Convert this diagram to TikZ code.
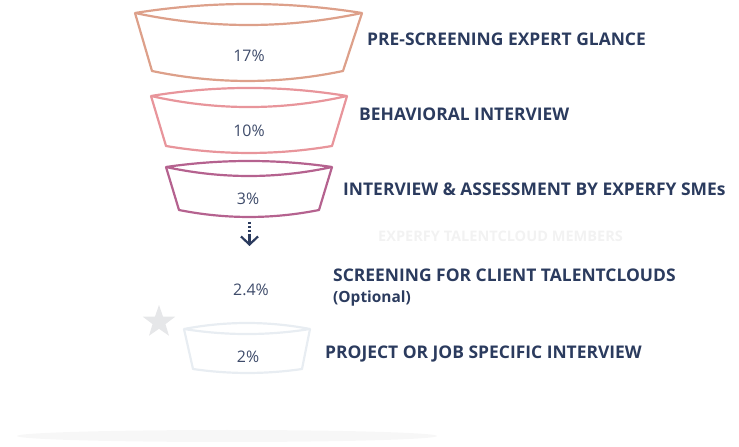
\documentclass[tikz,border=0pt]{standalone}
\usepackage{fontspec}
\setmainfont{Open Sans}
\usetikzlibrary{shapes.geometric,arrows.meta}
\definecolor{navy}{HTML}{2B3B5E}
\definecolor{pctgray}{HTML}{3E4B6A}
\definecolor{salmon}{HTML}{DDA08A}
\definecolor{rosepink}{HTML}{E8959B}
\definecolor{plum}{HTML}{B5628F}
\definecolor{palegray}{HTML}{E8EDF2}
\definecolor{stargray}{HTML}{E6E7E9}
\definecolor{shadowgray}{HTML}{F7F7F7}
\definecolor{ghost}{HTML}{F2F2F2}
\tikzset{
  funnel/.style={line width=2.2bp,line join=round},
  pct/.style={anchor=base,text=pctgray,font=\fontsize{16}{18}\selectfont,inner sep=0pt},
  stage/.style={anchor=base west,text=navy,font=\bfseries\fontsize{17.5}{20}\selectfont,inner sep=0pt},
}
\begin{document}
\begin{tikzpicture}[>=latex,line join=bevel,]
    \useasboundingbox (0bp,0bp) rectangle (739bp,447bp);
    %% shadow
    \fill [shadowgray] (227bp,11bp) ellipse [x radius=210bp,y radius=6bp];
    %% funnels
    \draw [funnel,salmon] (135bp,434bp) ..controls (210.7bp,418bp) and (286.3bp,418bp) .. (362bp,434bp)
        ..controls (286.3bp,446bp) and (210.7bp,446bp) .. cycle;
    \draw [funnel,salmon] (135bp,434bp) -- (152bp,376bp) ..controls (215.7bp,362.7bp) and (279.3bp,362.7bp) .. (343bp,376bp) -- (362bp,434bp);
    \draw [funnel,rosepink] (151bp,351bp) ..controls (216.3bp,336.3bp) and (281.7bp,336.3bp) .. (347bp,351bp)
        ..controls (281.7bp,361.7bp) and (216.3bp,361.7bp) .. cycle;
    \draw [funnel,rosepink] (151bp,351bp) -- (166bp,301bp) ..controls (221.3bp,291.7bp) and (276.7bp,291.7bp) .. (332bp,301bp) -- (347bp,351bp);
    \draw [funnel,plum] (166bp,280bp) ..controls (221.3bp,268bp) and (276.7bp,268bp) .. (332bp,280bp)
        ..controls (276.7bp,288bp) and (221.3bp,288bp) .. cycle;
    \draw [funnel,plum] (166bp,280bp) -- (179bp,237bp) ..controls (225.7bp,227.7bp) and (272.3bp,227.7bp) .. (319bp,237bp) -- (332bp,280bp);
    \draw [funnel,palegray] (184bp,118bp) ..controls (226bp,111.3bp) and (268bp,111.3bp) .. (310bp,118bp)
        ..controls (268bp,126bp) and (226bp,126bp) .. cycle;
    \draw [funnel,palegray] (184bp,118bp) -- (193bp,78bp) ..controls (229.3bp,72.7bp) and (265.7bp,72.7bp) .. (302bp,78bp) -- (310bp,118bp);
    %% star
    \node (star) at (159bp,125bp) [star,star points=5,star point ratio=2.5,fill=stargray,minimum size=34bp,inner sep=0pt] {};
    %% percentages
    \node (p17) at (249bp,385bp) [pct] {17\%};
    \node (p10) at (249bp,310bp) [pct] {10\%};
    \node (p3) at (248bp,242bp) [pct] {3\%};
    \node (p24) at (251bp,151bp) [pct] {2.4\%};
    \node (p2) at (248bp,84bp) [pct] {2\%};
    %% arrow
    \coordinate (arrtop) at (249.5bp,225bp);
    \coordinate (arrbot) at (249.5bp,201bp);
    \draw [navy,line width=2.2bp,dash pattern=on 2.5bp off 1.5bp] (arrtop) -- ([yshift=12bp]arrbot);
    \draw [navy,line width=2.2bp,-{Straight Barb[length=8bp,width=17bp]}] ([yshift=12bp]arrbot) -- (arrbot);
    %% stage labels
    \node (glance) at (367bp,401bp) [stage] {PRE-SCREENING EXPERT GLANCE};
    \node (behav) at (359bp,326bp) [stage] {BEHAVIORAL INTERVIEW};
    \node (smes) at (343bp,251bp) [stage] {INTERVIEW \& ASSESSMENT BY EXPERFY SMEs};
    \node (members) at (378bp,205bp) [stage,text=ghost,font=\bfseries\fontsize{14.6}{17}\selectfont] {EXPERFY TALENTCLOUD MEMBERS};
    \node (client) at (333bp,165bp) [stage] {SCREENING FOR CLIENT TALENTCLOUDS};
    \node (optional) at (333bp,144bp) [stage,font=\bfseries\fontsize{15.5}{17}\selectfont] {(Optional)};
    \node (project) at (325bp,88bp) [stage] {PROJECT OR JOB SPECIFIC INTERVIEW};
    %
\end{tikzpicture}
\end{document}
